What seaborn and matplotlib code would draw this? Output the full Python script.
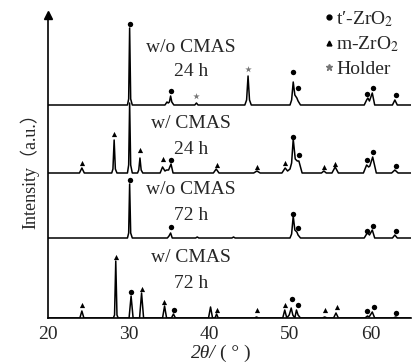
import numpy as np
import pandas as pd
import matplotlib
matplotlib.use("Agg")
import matplotlib.pyplot as plt
import seaborn as sns
from matplotlib.lines import Line2D

# ---- XRD patterns (2theta in degrees, intensity in a.u. above each baseline) ----
tt_wo24 = [20, 29.85, 30.0, 30.12, 30.25, 30.45, 34.5, 34.75, 34.9, 35.05, 35.2, 35.35, 35.6,
           38.2, 38.4, 38.6, 44.4, 44.62, 44.8, 44.98, 45.2, 50.0, 50.2, 50.4, 50.6, 50.85, 51.0,
           51.3, 59.2, 59.5, 59.65, 59.85, 60.2, 60.5, 62.7, 63.0, 63.3, 65]
int_wo24 = [0, 0, 6, 77, 6, 0, 0, 3, 2, 3, 9, 3, 0,
            0, 2, 0, 0, 5, 29, 5, 0, 0, 5, 23, 10, 7, 4,
            0, 0, 5, 7, 4, 12, 0, 0, 5, 0, 0]

tt_w24 = [20, 23.9, 24.2, 24.5, 27.9, 28.05, 28.2, 28.35, 28.55, 29.85, 30.0, 30.12, 30.25, 30.45,
          31.1, 31.25, 31.4, 31.55, 31.75, 33.9, 34.2, 34.5, 34.7, 34.95, 35.25, 35.5, 40.5, 40.85,
          41.2, 45.5, 45.9, 46.3, 49.0, 49.4, 49.7, 50.0, 50.2, 50.4, 50.65, 50.9, 51.1, 51.5, 53.9,
          54.2, 54.5, 55.2, 55.6, 56.0, 59.1, 59.5, 59.75, 59.9, 60.25, 60.7, 62.6, 63.0, 63.4, 65]
int_w24 = [0, 0, 5, 0, 0, 4, 33, 4, 0, 0, 8, 70, 8, 0,
           0, 3, 15, 3, 0, 0, 6, 2, 3, 3, 9, 0, 0, 4,
           0, 0, 2, 0, 0, 5, 2, 4, 10, 34, 14, 12, 12, 0, 0,
           2, 0, 0, 6, 0, 0, 8, 6, 7, 16, 0, 0, 3, 0, 0]

tt_wo72 = [20, 29.85, 30.0, 30.12, 30.25, 30.45, 34.8, 35.0, 35.2, 35.4, 38.3, 38.5, 38.7, 42.8,
           43.0, 43.2, 50.0, 50.2, 50.4, 50.6, 50.85, 51.0, 51.3, 59.2, 59.5, 59.65, 59.85, 60.2,
           60.5, 62.7, 63.0, 63.3, 65]
int_wo72 = [0, 0, 5, 54, 5, 0, 0, 2, 5, 0, 0, 1, 0, 0,
            1, 0, 0, 4, 22, 8, 6, 3, 0, 0, 4, 5, 3, 8,
            0, 0, 3, 0, 0]

tt_w72 = [20, 23.95, 24.2, 24.45, 28.1, 28.25, 28.4, 28.55, 28.7, 30.05, 30.3, 30.55, 31.35, 31.6,
          31.85, 34.2, 34.45, 34.7, 35.3, 35.55, 35.8, 39.9, 40.15, 40.4, 40.7, 40.9, 41.1, 45.6,
          45.85, 46.1, 49.1, 49.35, 49.6, 49.9, 50.15, 50.35, 50.6, 50.8, 51.0, 51.3, 54.0, 54.3,
          54.6, 55.4, 55.7, 56.0, 59.3, 59.6, 59.8, 60.2, 60.5, 62.8, 63.1, 63.4, 65]
int_w72 = [0, 0, 7, 0, 0, 3, 57, 3, 0, 0, 22, 0, 0, 25,
           0, 0, 12, 0, 0, 4, 0, 0, 11, 0, 0, 4, 0, 0,
           1, 0, 0, 8, 0, 3, 10, 3, 0, 8, 3, 0, 0, 1,
           0, 0, 5, 0, 0, 2, 1, 6, 0, 0, 1, 0, 0]

# ---- phase markers: (2theta, height above baseline) ----
t_wo24 = [(30.15, 81), (35.2, 14), (50.4, 33), (51.0, 17), (59.6, 11), (60.25, 17), (63.1, 10)]
h_wo24 = [(38.4, 9), (44.8, 36)]
t_w24 = [(35.3, 13), (50.4, 36), (51.1, 18), (59.6, 13), (60.3, 21), (63.1, 7)]
m_w24 = [(24.2, 10), (28.2, 39), (31.4, 23), (34.2, 14), (40.9, 8), (45.9, 6), (49.4, 10),
         (54.2, 6), (55.6, 9)]
t_wo72 = [(30.15, 58), (35.2, 11), (50.4, 24), (51.0, 10), (59.6, 7), (60.25, 12), (63.1, 7)]
t_w72 = [(30.3, 26), (35.6, 8), (50.2, 19), (51.0, 13), (59.6, 7), (60.4, 11), (63.1, 5)]
m_w72 = [(24.2, 13), (28.4, 61), (31.6, 29), (34.4, 16), (41.0, 8), (45.9, 8), (49.4, 13),
         (54.3, 8), (55.8, 11)]

samples = [
    ("w/o CMAS", "24 h", tt_wo24, int_wo24, 213, t_wo24, [], h_wo24),
    ("w/ CMAS", "24 h", tt_w24, int_w24, 145, t_w24, m_w24, []),
    ("w/o CMAS", "72 h", tt_wo72, int_wo72, 80, t_wo72, [], []),
    ("w/ CMAS", "72 h", tt_w72, int_w72, 0, t_w72, m_w72, []),
]

sns.set_style("white")
plt.rcParams["font.family"] = ["Liberation Serif", "Noto Sans CJK SC"]
plt.rcParams["mathtext.fontset"] = "stix"

fig = plt.figure(figsize=(4.18, 3.64), dpi=100)
ax = fig.add_axes([48 / 418, 46 / 364, 363 / 418, 303 / 364])

for name, dur, tt, inten, off, tpk, mpk, hpk in samples:
    df = pd.DataFrame({"tt": tt, "I": np.array(inten) + off})
    sns.lineplot(data=df, x="tt", y="I", ax=ax, color="black", lw=1.1,
                 sort=False, estimator=None)
    if tpk:
        d = pd.DataFrame(tpk, columns=["tt", "h"])
        ax.scatter(d["tt"], d["h"] + off, marker="o", s=15, color="black", lw=0, zorder=3)
    if mpk:
        d = pd.DataFrame(mpk, columns=["tt", "h"])
        ax.scatter(d["tt"], d["h"] + off, marker="^", s=14, color="black", lw=0, zorder=3)
    if hpk:
        d = pd.DataFrame(hpk, columns=["tt", "h"])
        ax.scatter(d["tt"], d["h"] + off, marker="*", s=24, color="#777777", lw=0, zorder=3)

label_pos = [(271, 247), (194, 168), (128, 103), (61, 35)]
for (name, dur, *_), (y1, y2) in zip(samples, label_pos):
    ax.text(37.7, y1, name, ha="center", va="center", fontsize=14)
    ax.text(37.7, y2, dur, ha="center", va="center", fontsize=14)

ax.set_xlim(20, 65)
ax.set_ylim(0, 303)
ax.set_xticks([20, 30, 40, 50, 60])
ax.set_yticks([])
ax.tick_params(axis="x", length=0, labelsize=14, pad=6)
for s in ["top", "right"]:
    ax.spines[s].set_visible(False)
for s in ["left", "bottom"]:
    ax.spines[s].set_color("black")
    ax.spines[s].set_linewidth(1.2)
ax.plot(0, 1, marker="^", color="black", ms=6, transform=ax.transAxes, clip_on=False)

# x label: italic 2θ/ followed by the bracketed unit
ax.set_xlabel("")
xl = (216 - 48) / 363
ax.text(xl, -0.118, "2θ/", style="italic", fontsize=14, ha="right", va="center",
        transform=ax.transAxes)
ax.text(xl + 0.012, -0.118, "( ° )", fontsize=14, ha="left", va="center",
        transform=ax.transAxes)
ax.set_ylabel("Intensity（a.u.）", fontsize=13, labelpad=6)

handles = [
    Line2D([], [], ls="", marker="o", color="black", ms=3.5),
    Line2D([], [], ls="", marker="^", color="black", ms=3.5),
    Line2D([], [], ls="", marker="*", color="#777777", ms=5),
]
labels = ["t′-ZrO$_2$", "m-ZrO$_2$", "Holder"]
ax.legend(handles, labels, loc="upper left", bbox_to_anchor=(0.738, 1.045), frameon=False,
          fontsize=14, handlelength=0.5, handletextpad=0.15, labelspacing=0.3,
          borderaxespad=0)

fig.savefig("out.png", dpi=100)
